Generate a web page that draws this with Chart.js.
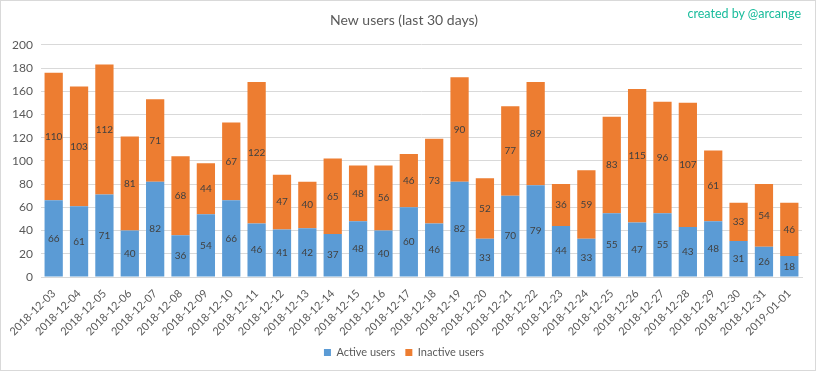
<!DOCTYPE html>
<html><head><meta charset="utf-8">
<script src="https://cdn.jsdelivr.net/npm/chart.js@4/dist/chart.umd.min.js"></script>
<style>
html,body{margin:0;padding:0;background:#fff;}
#wrap{position:relative;width:816px;height:371px;box-sizing:border-box;border:1px solid #d9d9d9;}
#credit{position:absolute;right:14px;top:5px;font-family:Lato,"Open Sans",sans-serif;font-size:12.5px;color:#1abc9c;}
canvas{position:absolute;left:0;top:0;}
</style></head>
<body><div id="wrap"><canvas id="c" width="814" height="369"></canvas><div id="credit">created by @arcange</div></div>
<script>
const categories = ["2018-12-03","2018-12-04","2018-12-05","2018-12-06","2018-12-07","2018-12-08","2018-12-09","2018-12-10","2018-12-11","2018-12-12","2018-12-13","2018-12-14","2018-12-15","2018-12-16","2018-12-17","2018-12-18","2018-12-19","2018-12-20","2018-12-21","2018-12-22","2018-12-23","2018-12-24","2018-12-25","2018-12-26","2018-12-27","2018-12-28","2018-12-29","2018-12-30","2018-12-31","2019-01-01"];
const activeUsers = [66,61,71,40,82,36,54,66,46,41,42,37,48,40,60,46,82,33,70,79,44,33,55,47,55,43,48,31,26,18];
const inactiveUsers = [110,103,112,81,71,68,44,67,122,47,40,65,48,56,46,73,90,52,77,89,36,59,83,115,96,107,61,33,54,46];
const yTicks = [0,20,40,60,80,100,120,140,160,180,200];

const FONT = 'Lato, "Open Sans", sans-serif';
const labelPlugin = {
  id: 'segLabels',
  afterDatasetsDraw(chart) {
    const ctx = chart.ctx;
    ctx.save();
    ctx.font = '10px ' + FONT;
    ctx.fillStyle = '#404040';
    ctx.textAlign = 'center';
    ctx.textBaseline = 'middle';
    chart.data.datasets.forEach((ds, di) => {
      const meta = chart.getDatasetMeta(di);
      meta.data.forEach((el, i) => {
        const p = el.getProps(['x','y','base'], true);
        ctx.fillText(String(ds.data[i]), p.x, (p.y + p.base) / 2);
      });
    });
    ctx.restore();
  }
};

new Chart(document.getElementById('c'), {
  type: 'bar',
  data: {
    labels: categories,
    datasets: [
      { label: 'Active users', data: activeUsers, backgroundColor: '#5b9bd5', categoryPercentage: 1, barPercentage: 0.72 },
      { label: 'Inactive users', data: inactiveUsers, backgroundColor: '#ed7d31', categoryPercentage: 1, barPercentage: 0.72 }
    ]
  },
  options: {
    responsive: false,
    animation: false,
    devicePixelRatio: 1,
    layout: { padding: { left: 5, right: 13, top: 5, bottom: 2 } },
    plugins: {
      title: { display: true, text: 'New users (last 30 days)', color: '#595959', font: { family: FONT, size: 14, weight: 'normal' }, padding: { top: 6, bottom: 16 } },
      legend: { position: 'bottom', labels: { boxWidth: 7, boxHeight: 7, color: '#595959', font: { family: FONT, size: 11 }, padding: 10 } },
      tooltip: { enabled: false }
    },
    scales: {
      x: {
        stacked: true,
        grid: { display: false },
        border: { color: '#d9d9d9' },
        afterFit: s => { s.height = 60; },
        ticks: { color: '#595959', font: { family: FONT, size: 11 }, maxRotation: 45, minRotation: 45, autoSkip: false, padding: 2 }
      },
      y: {
        stacked: true,
        min: 0, max: 200,
        afterBuildTicks: s => { s.ticks = yTicks.map(v => ({ value: v })); },
        afterFit: s => { s.width = 35; },
        grid: { color: '#d9d9d9', drawTicks: false },
        border: { display: false },
        ticks: { color: '#595959', font: { family: FONT, size: 12 }, padding: 8 }
      }
    }
  },
  plugins: [labelPlugin]
});
</script></body></html>
